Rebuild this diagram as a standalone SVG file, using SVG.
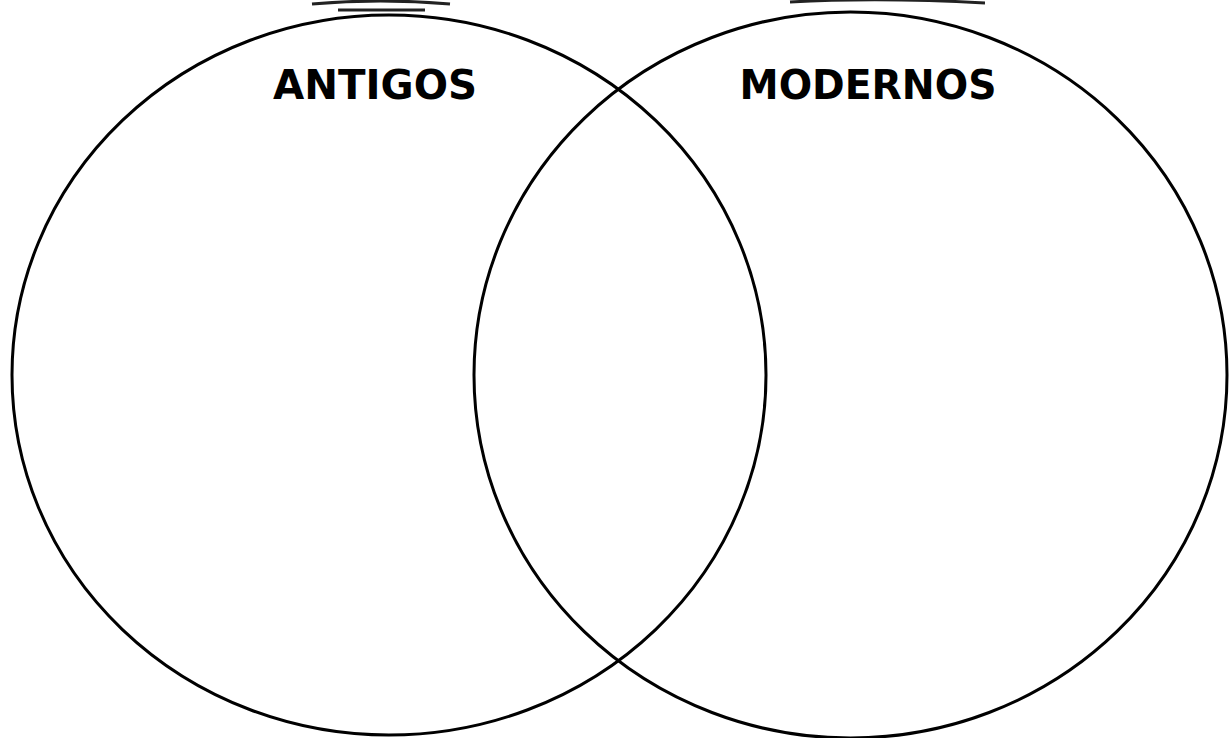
<svg xmlns="http://www.w3.org/2000/svg" width="1229" height="738" viewBox="0 0 1229 738">
  <style>
    .ring { fill: none; stroke: #000; stroke-width: 3; }
    .label { font-family: "DejaVu Sans", Verdana, sans-serif; font-weight: bold; font-size: 41px; fill: #000; text-anchor: middle; }
    .mark { stroke: #222; stroke-width: 3; fill: none; }
  </style>
  <rect width="1229" height="738" fill="#fff"/>
  <g id="top-marks">
    <path class="mark" d="M312 4 Q 380 -2 450 4"/>
    <path class="mark" d="M338 10 L 425 10"/>
    <path class="mark" d="M790 2 Q 880 -3 985 3"/>
  </g>
  <g id="antigos">
    <ellipse class="ring" cx="389" cy="375" rx="377" ry="360"/>
    <text class="label" x="375" y="99" textLength="204" lengthAdjust="spacingAndGlyphs">ANTIGOS</text>
  </g>
  <g id="modernos">
    <ellipse class="ring" cx="850.5" cy="375" rx="376.5" ry="363"/>
    <text class="label" x="868" y="99" textLength="257" lengthAdjust="spacingAndGlyphs">MODERNOS</text>
  </g>
  <g id="connectors"></g>
</svg>
